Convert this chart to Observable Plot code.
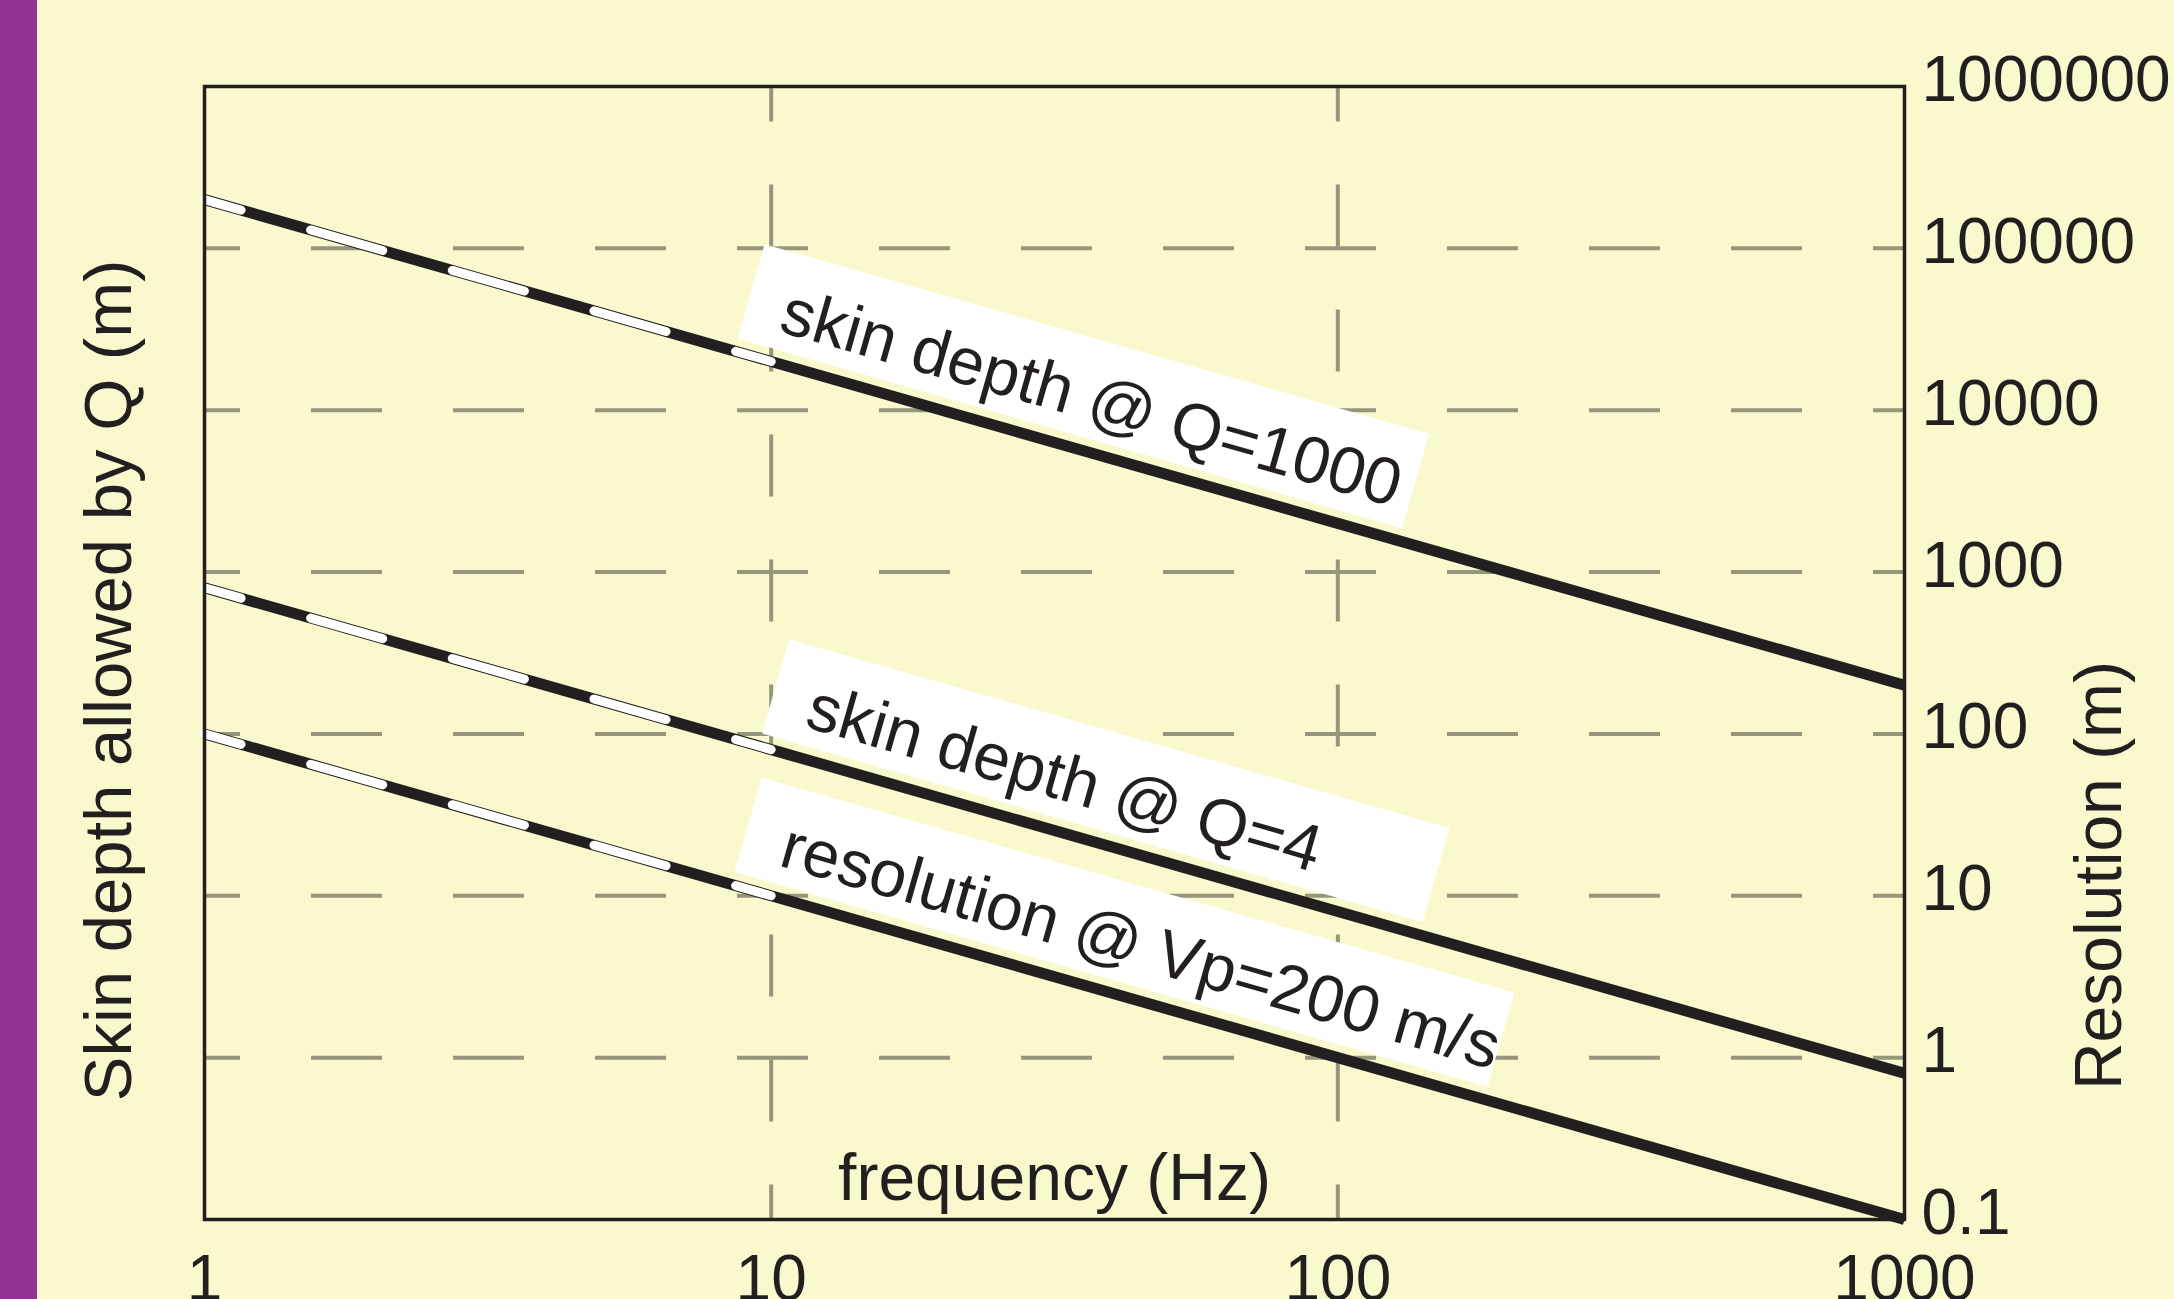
<!DOCTYPE html>
<html><head><meta charset="utf-8">
<script src="https://cdn.jsdelivr.net/npm/d3@7"></script>
<script src="https://cdn.jsdelivr.net/npm/@observablehq/plot@0.6"></script>
<style>
html,body{margin:0;padding:0;overflow:hidden;background:#FAF9CE;}
#wrap{position:relative;width:2174px;height:1299px;overflow:hidden;}
#bar{position:absolute;left:0;top:0;width:37px;height:1299px;background:#93328E;}
svg{display:block;}
</style></head><body><div id="wrap"><div id="bar"></div></div>
<script>
// ---- data ----
const frequency = [1, 10, 100, 1000];
const skinQ1000 = [200000, 20000, 2000, 200];
const skinQ4 = [800, 80, 8, 0.8];
const resolutionVp200 = [100, 10, 1, 0.1];
const seriesNames = ["skin depth @ Q=1000", "skin depth @ Q=4", "resolution @ Vp=200 m/s"];
const xTicks = [1, 10, 100, 1000];
const xTickLabels = ["1", "10", "100", "1000"];
const yTicks = [0.1, 1, 10, 100, 1000, 10000, 100000, 1000000];
const yTickLabels = ["0.1", "1", "10", "100", "1000", "10000", "100000", "1000000"];
const xTitle = "frequency (Hz)";
const yTitleLeft = "Skin depth allowed by Q (m)";
const yTitleRight = "Resolution (m)";
// label placement along each line (frequency where text / box begin and end)
const labelStart = [9.9, 11.0, 9.9];
const boxStart = [8.6, 9.5, 8.5];
const boxEnd = [128, 139, 181];

// ---- layout ----
const W = 2174, H = 1299, mL = 204, mR = 270, mT = 86, mB = 80;
const xDomain = [1, 1000], yDomain = [0.1, 1000000];
const ink = "#231F20", gridColor = "#97957B";
const series = [skinQ1000, skinQ4, resolutionVp200];

const rows = [];
series.forEach((vals, s) => frequency.forEach((f, i) => rows.push({s, f, v: vals[i]})));

// interpolate a point on a series (log-log straight segments) for label placement
function onLine(s, f) {
  const V = series[s];
  let i = 0;
  while (i < frequency.length - 2 && f > frequency[i + 1]) i++;
  const t = (Math.log10(f) - Math.log10(frequency[i])) / (Math.log10(frequency[i + 1]) - Math.log10(frequency[i]));
  return Math.pow(10, Math.log10(V[i]) + t * (Math.log10(V[i + 1]) - Math.log10(V[i])));
}

const xDec = (W - mL - mR) / (Math.log10(xDomain[1]) - Math.log10(xDomain[0]));
const yDec = (H - mT - mB) / (Math.log10(yDomain[1]) - Math.log10(yDomain[0]));
const segX = xDec * (Math.log10(frequency[1]) - Math.log10(frequency[0]));
const segY = yDec * (Math.log10(skinQ1000[0]) - Math.log10(skinQ1000[1]));
const theta = Math.atan2(segY, segX);
const thetaDeg = theta * 180 / Math.PI;
const sinT = Math.sin(theta), cosT = Math.cos(theta);
const segLen = Math.hypot(segX, segY);
const period = segLen / 4;
const whiteDash = 75;

const boxLow = 13, boxHigh = 111, textBase = 31;
const boxMid = (boxLow + boxHigh) / 2;

const labelData = seriesNames.map((t, i) => ({text: t, f: labelStart[i], v: onLine(i, labelStart[i])}));
const boxData = [];
seriesNames.forEach((t, i) => {
  boxData.push({id: i, f: boxStart[i], v: onLine(i, boxStart[i])});
  boxData.push({id: i, f: boxEnd[i], v: onLine(i, boxEnd[i])});
});

const innerX = xTicks.filter(d => d > xDomain[0] && d < xDomain[1]);
const innerY = yTicks.filter(d => d > yDomain[0] && d < yDomain[1]);
const fontFamily = "'Liberation Sans', Arial, Helvetica, sans-serif";

const chart = Plot.plot({
  width: W, height: H,
  marginLeft: mL, marginRight: mR, marginTop: mT, marginBottom: mB,
  x: {type: "log", domain: xDomain},
  y: {type: "log", domain: yDomain},
  style: {background: "#FAF9CE", color: ink, fontFamily, overflow: "hidden"},
  marks: [
    Plot.ruleY(innerY, {stroke: gridColor, strokeWidth: 4, strokeDasharray: "71 71", strokeDashoffset: 35}),
    Plot.ruleX(innerX, {stroke: gridColor, strokeWidth: 4, strokeDasharray: "62 63", strokeDashoffset: 26.6}),
    Plot.line(boxData, {x: "f", y: "v", z: "id", stroke: "#FFFFFF", strokeWidth: boxHigh - boxLow, strokeLinecap: "butt",
      dx: boxMid * sinT, dy: -boxMid * cosT}),
    Plot.line(rows, {x: "f", y: "v", z: "s", stroke: ink, strokeWidth: 11, strokeLinecap: "butt"}),
    Plot.line(rows.filter(d => d.f <= 10), {x: "f", y: "v", z: "s", stroke: "#FFFFFF", strokeWidth: 9, strokeLinecap: "round",
      strokeDasharray: `${whiteDash} ${period - whiteDash}`, strokeDashoffset: 37}),
    Plot.text(labelData, {x: "f", y: "v", text: "text", rotate: thetaDeg, textAnchor: "start", lineAnchor: "bottom",
      dx: textBase * sinT, dy: -textBase * cosT, fontSize: 66, fill: ink}),
    Plot.axisX(xTicks, {anchor: "bottom", tickSize: 0, tickPadding: 35, fontSize: 64, label: null,
      tickFormat: d => xTickLabels[xTicks.indexOf(d)]}),
    Plot.axisY(yTicks, {anchor: "right", tickSize: 0, tickPadding: 17, fontSize: 64, label: null, dy: -6,
      tickFormat: d => yTickLabels[yTicks.indexOf(d)]}),
    Plot.text([xTitle], {frameAnchor: "bottom", lineAnchor: "bottom", dy: -19.5, fontSize: 66, fill: ink}),
    Plot.text([yTitleLeft], {frameAnchor: "left", textAnchor: "middle", rotate: -90, lineAnchor: "bottom", dx: -74, dy: 27.5, fontSize: 67, fill: ink}),
    Plot.text([yTitleRight], {frameAnchor: "right", textAnchor: "middle", rotate: -90, lineAnchor: "bottom", dx: 216, dy: 222.5, fontSize: 66, fill: ink}),
    Plot.frame({stroke: ink, strokeWidth: 3.5})
  ]
});
document.getElementById("wrap").appendChild(chart);
</script>
</body></html>
